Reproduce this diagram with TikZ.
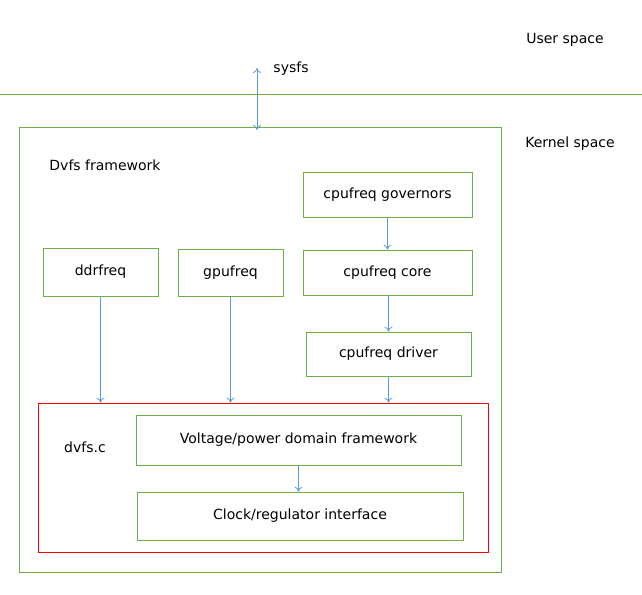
\documentclass[tikz,border=0pt]{standalone}
\usepackage{fontspec}
\setmainfont{DejaVu Sans}
\usetikzlibrary{arrows.meta}
\begin{document}
\begin{tikzpicture}[x=1pt,y=-1pt]
\definecolor{gr}{RGB}{112,173,71}
\definecolor{bl}{RGB}{91,155,213}
\tikzset{lbl/.style={font=\fontsize{14}{16}\selectfont, inner sep=0pt},
  gbox/.style={draw=gr, line width=0.8pt},
  conn/.style={draw=bl, line width=0.8pt, -{To[length=5pt,width=8pt]}},
  bx/.style={draw=gr, line width=0.8pt, inner sep=0pt, font=\fontsize{14}{16}\selectfont}}
\useasboundingbox (0,0) rectangle (642,594);
\draw[gr, line width=0.6pt] (0,94) -- (642,94);
\node[lbl] (us) at (565,40) {User space};
\node[lbl] (ks) at (570,144) {Kernel space};
\node[lbl] (sysfs) at (291,69) {sysfs};
\node[gbox, minimum width=482pt, minimum height=445pt, inner sep=0pt] (outer) at (260,349.5) {};
\coordinate (top) at (257,68);
\draw[bl, line width=0.8pt, {To[length=5pt,width=8pt]}-{To[length=5pt,width=8pt]}] (top) -- (257,130);
\node[lbl] (dvfw) at (105,165) {Dvfs framework};
\node[bx, minimum width=169pt, minimum height=45pt] (gov) at (387.5,194.5) {cpufreq governors};
\node[bx, minimum width=169pt, minimum height=45pt] (core) at (387.5,272.5) {cpufreq core};
\node[bx, minimum width=165pt, minimum height=44pt] (drv) at (388.5,354) {cpufreq driver};
\node[bx, minimum width=115pt, minimum height=48pt] (ddr) at (100.5,272) {ddrfreq};
\node[bx, minimum width=105pt, minimum height=47pt] (gpu) at (230.5,272.5) {gpufreq};
\node[draw=red, line width=0.8pt, minimum width=450pt, minimum height=149pt, inner sep=0pt] (dvfs) at (263,477.5) {};
\node[lbl] (dvfsc) at (85,447) {dvfs.c};
\node[bx, minimum width=325pt, minimum height=50pt] (volt) at (298.5,440) {Voltage/power domain framework};
\node[bx, minimum width=326pt, minimum height=48pt] (clk) at (300,516) {Clock/regulator interface};
\draw[conn] (gov) -- (core);
\draw[conn] (core.south -| drv.south) -- (drv.north);
\draw[conn] (drv.south) -- (drv.south |- dvfs.north);
\draw[conn] (ddr.south) -- (ddr.south |- dvfs.north);
\draw[conn] (gpu.south) -- (gpu.south |- dvfs.north);
\draw[conn] (volt.south) -- (volt.south |- clk.north);
\end{tikzpicture}
\end{document}
